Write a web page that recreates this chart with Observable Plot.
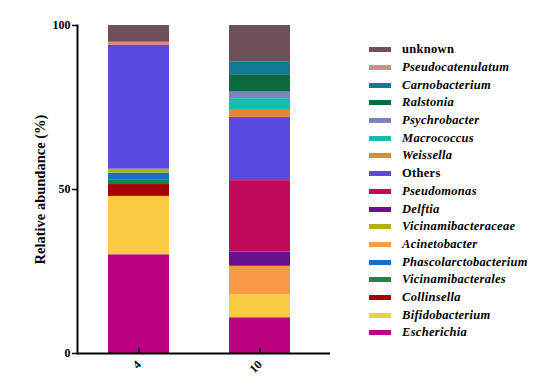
<!DOCTYPE html>
<html><head><meta charset="utf-8">
<script src="https://cdn.jsdelivr.net/npm/d3@7"></script>
<script src="https://cdn.jsdelivr.net/npm/@observablehq/plot@0.6"></script>
<style>
body{margin:0;background:#fff;}
#wrap{position:relative;width:550px;height:389px;}
#wrap svg{position:absolute;left:0;top:0;}
#legend{position:absolute;left:369px;top:41px;font-family:"Liberation Serif","DejaVu Serif",serif;font-weight:bold;font-size:12.5px;color:#000;}
.row{display:flex;align-items:center;height:17.7px;white-space:nowrap;letter-spacing:0.3px;}
.sw{width:22px;height:5px;margin-right:11px;flex:none;}
</style></head><body><div id="wrap"><div id="legend"></div></div>
<script>
const samples = ["4", "10"];
// bottom to top stacking order
const taxa = ["Escherichia","Bifidobacterium","Collinsella","Vicinamibacterales","Phascolarctobacterium","Acinetobacter","Vicinamibacteraceae","Delftia","Pseudomonas","Others","Weissella","Macrococcus","Psychrobacter","Ralstonia","Carnobacterium","Pseudocatenulatum","unknown"];
const sample4  = [30.1, 17.8, 3.6, 1.5, 2.0, 0, 1.2, 0, 0, 37.7, 0, 0, 0, 0, 0, 1.0, 5.1];
const sample10 = [10.9, 7.1, 0, 0, 0, 8.6, 0, 4.3, 21.8, 19.3, 2.4, 3.3, 2.0, 5.3, 3.8, 0, 11.2];
const colors = ["#bb0080","#fbcb46","#a50000","#108a48","#1a6ec4","#fb9a46","#b3b20c","#64128e","#c2095a","#5a4ade","#e08a2e","#12bfae","#8080c4","#0b6a40","#117a92","#d48a8a","#6e4f5a"];
const plainNames = ["unknown","Others"];

const data = [];
taxa.forEach((t, i) => {
  data.push({sample: samples[0], taxon: t, value: sample4[i]});
  data.push({sample: samples[1], taxon: t, value: sample10[i]});
});

const font = "'Liberation Serif', 'DejaVu Serif', serif";
const chart = Plot.plot({
  width: 550, height: 389,
  marginLeft: 77, marginRight: 220, marginTop: 25, marginBottom: 36,
  x: {domain: samples, paddingInner: 0.5, paddingOuter: 0.287, align: 0.43, label: null},
  y: {domain: [0, 100], label: null},
  color: {domain: taxa, range: colors},
  style: {fontFamily: font, fontWeight: "bold", fontSize: "12px", color: "#000", background: "transparent"},
  marks: [
    Plot.barY(data, {x: "sample", y: "value", fill: "taxon", order: taxa}),
    Plot.ruleY([0], {strokeWidth: 2}),
    Plot.frame({anchor: "left", strokeWidth: 2}),
    Plot.axisY({ticks: [0, 50, 100], tickSize: 5, tickPadding: 2, strokeWidth: 1.5,
      label: "Relative abundance (%)", labelAnchor: "center", labelArrow: "none", labelOffset: 43,
      fontSize: 12, fontWeight: "bold"}),
    Plot.axisX({tickSize: -5, strokeWidth: 1.5, tickFormat: () => "", label: null}),
    Plot.axisX({tickSize: 0, tickPadding: 9, tickRotate: -45, fontSize: 12, fontWeight: "bold", label: null})
  ]
});
d3.select(chart).selectAll("text").style("font-family", font);
d3.select(chart).selectAll("g[aria-label='y-axis label'] text").style("font-size", "14.5px");
document.getElementById("wrap").appendChild(chart);

const legend = document.getElementById("legend");
taxa.slice().reverse().forEach(t => {
  const i = taxa.indexOf(t);
  const row = document.createElement("div");
  row.className = "row";
  const sw = document.createElement("span");
  sw.className = "sw";
  sw.style.background = colors[i];
  const lab = document.createElement("span");
  lab.textContent = t;
  lab.style.fontStyle = plainNames.includes(t) ? "normal" : "italic";
  row.appendChild(sw); row.appendChild(lab);
  legend.appendChild(row);
});
</script></body></html>
